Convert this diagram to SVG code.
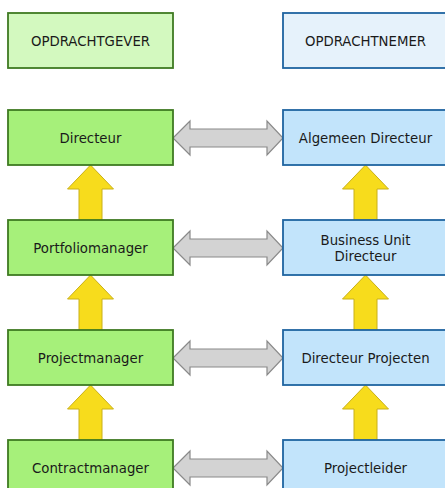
<svg xmlns="http://www.w3.org/2000/svg" width="445" height="488" viewBox="0 0 445 488">
<style>
text{font-family:"DejaVu Sans",Verdana,sans-serif;font-size:13.3px;fill:#1a1a1a;text-anchor:middle;dominant-baseline:central}
.g{fill:#a6f07a;stroke:#3f7a22;stroke-width:1.8}
.gh{fill:#d3f9bf;stroke:#3f7a22;stroke-width:1.8}
.b{fill:#c2e4fb;stroke:#1f64a0;stroke-width:1.8}
.bh{fill:#e6f2fb;stroke:#1f64a0;stroke-width:1.8}
.up{fill:#f7dc1c;stroke:#c9b018;stroke-width:1}
.dbl{fill:#d3d3d3;stroke:#8a8a8a;stroke-width:1.2}
</style>
<defs>
<path id="up" class="up" d="M0,0 L23,24 L11.5,24 L11.5,55 L-11.5,55 L-11.5,24 L-23,24 Z"/>
<path id="dbl" class="dbl" d="M0,0 L17,-17 L17,-9 L94,-9 L94,-17 L110,0 L94,17 L94,9 L17,9 L17,17 Z"/>
</defs>
<g id="hdr-left"><rect class="gh" x="8" y="13" width="165" height="55"/><text x="90.5" y="41">OPDRACHTGEVER</text></g>
<g id="hdr-right"><rect class="bh" x="283" y="13" width="165" height="55"/><text x="365.5" y="41">OPDRACHTNEMER</text></g>
<g id="connectors">
<use href="#up" x="90.5" y="165"/>
<use href="#up" x="90.5" y="275"/>
<use href="#up" x="90.5" y="385"/>
<use href="#up" x="365.5" y="165"/>
<use href="#up" x="365.5" y="275"/>
<use href="#up" x="365.5" y="385"/>
<use href="#dbl" x="173" y="138"/>
<use href="#dbl" x="173" y="248"/>
<use href="#dbl" x="173" y="358"/>
<use href="#dbl" x="173" y="468"/>
</g>
<g id="directeur"><rect class="g" x="8" y="110" width="165" height="55"/><text x="90.5" y="138">Directeur</text></g>
<g id="portfoliomanager"><rect class="g" x="8" y="220" width="165" height="55"/><text x="90.5" y="248">Portfoliomanager</text></g>
<g id="projectmanager"><rect class="g" x="8" y="330" width="165" height="55"/><text x="90.5" y="358">Projectmanager</text></g>
<g id="contractmanager"><rect class="g" x="8" y="440" width="165" height="55"/><text x="90.5" y="468">Contractmanager</text></g>
<g id="algemeen-directeur"><rect class="b" x="283" y="110" width="165" height="55"/><text x="365.5" y="138">Algemeen Directeur</text></g>
<g id="bu-directeur"><rect class="b" x="283" y="220" width="165" height="55"/><text x="365.5" y="240">Business Unit</text><text x="365.5" y="256">Directeur</text></g>
<g id="directeur-projecten"><rect class="b" x="283" y="330" width="165" height="55"/><text x="365.5" y="358">Directeur Projecten</text></g>
<g id="projectleider"><rect class="b" x="283" y="440" width="165" height="55"/><text x="365.5" y="468">Projectleider</text></g>
</svg>
